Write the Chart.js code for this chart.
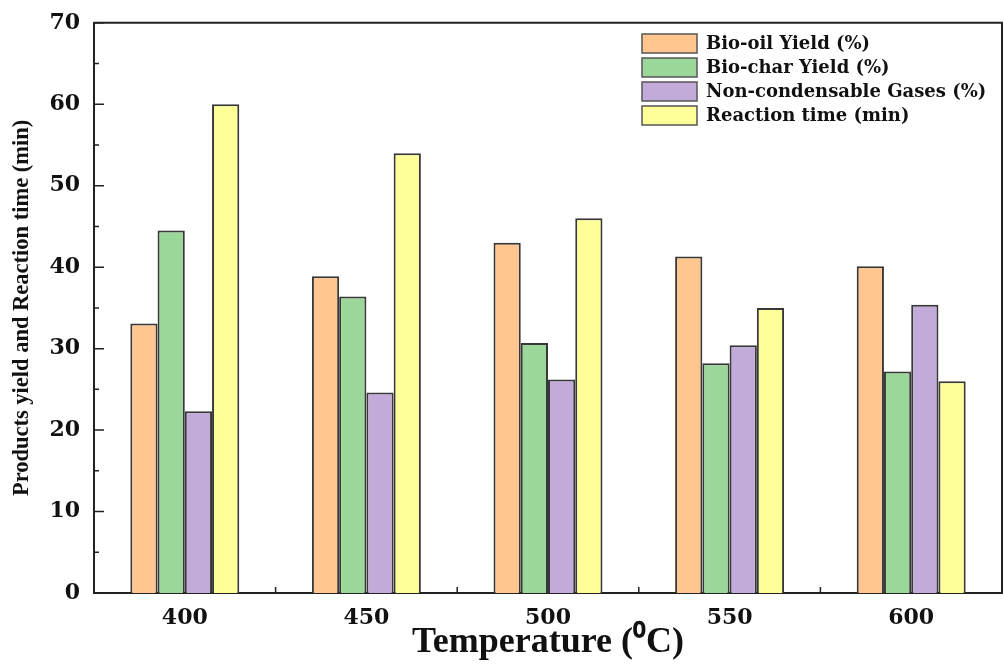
<!DOCTYPE html>
<html>
<head>
<meta charset="utf-8">
<script src="https://cdn.jsdelivr.net/npm/chart.js@4.4.1/dist/chart.umd.min.js"></script>
<style>
  body { margin: 0; background: #fff; }
  #chart { display: block; }
</style>
</head>
<body>
<canvas id="chart" width="1004" height="668"></canvas>
<script>
// data
const temperatures = ['400', '450', '500', '550', '600'];
const bioOil = [33.1, 38.9, 43.0, 41.3, 40.1];
const bioChar = [44.5, 36.4, 30.7, 28.2, 27.2];
const gases = [22.3, 24.6, 26.2, 30.4, 35.4];
const reactionTime = [60, 54, 46, 35, 26];
const seriesNames = ['Bio-oil Yield (%)', 'Bio-char Yield (%)', 'Non-condensable Gases (%)', 'Reaction time (min)'];
const seriesColors = ['#ffc78f', '#9bd69b', '#c2abd9', '#ffff99'];
const yTicks = [0, 10, 20, 30, 40, 50, 60, 70];

const axisColor = '#222';

// inward ticks, closed frame and legend in the top right
const framePlugin = {
    id: 'frame',
    afterDraw(chart) {
        const ctx = chart.ctx;
        const area = chart.chartArea;
        const y = chart.scales.y;
        const x = chart.scales.x;
        ctx.save();
        ctx.strokeStyle = axisColor;
        ctx.lineWidth = 2;
        ctx.beginPath();
        ctx.moveTo(area.left, area.top);
        ctx.lineTo(area.right, area.top);
        ctx.lineTo(area.right, area.bottom);
        ctx.stroke();

        ctx.lineWidth = 1.5;
        ctx.beginPath();
        for (let v = 0; v <= 70; v += 5) {
            const py = y.getPixelForValue(v);
            const len = v % 10 === 0 ? 10 : 5;
            ctx.moveTo(area.left, py);
            ctx.lineTo(area.left + len, py);
        }
        for (let i = 0; i < temperatures.length - 1; i++) {
            const px = x.getPixelForValue(i + 0.5);
            ctx.moveTo(px, area.bottom);
            ctx.lineTo(px, area.bottom - 6);
        }
        ctx.stroke();

        ctx.font = 'bold 18px "DejaVu Serif"';
        ctx.textBaseline = 'middle';
        ctx.textAlign = 'left';
        chart.data.datasets.forEach((ds, i) => {
            const top = 34 + i * 24;
            ctx.fillStyle = ds.backgroundColor;
            ctx.fillRect(642, top, 55, 19);
            ctx.strokeStyle = '#555';
            ctx.lineWidth = 1.5;
            ctx.strokeRect(642, top, 55, 19);
            ctx.fillStyle = '#111';
            ctx.fillText(ds.label, 706, top + 10);
        });
        ctx.restore();
    }
};

const values = [bioOil, bioChar, gases, reactionTime];

new Chart(document.getElementById('chart'), {
    type: 'bar',
    data: {
        labels: temperatures,
        datasets: seriesNames.map((name, i) => ({
            label: name,
            data: values[i],
            backgroundColor: seriesColors[i],
            borderColor: '#383838',
            borderWidth: 2,
            categoryPercentage: 0.6,
            barPercentage: 1.0
        }))
    },
    options: {
        responsive: false,
        animation: false,
        layout: { padding: { top: 22, right: 2, left: 0, bottom: 0 } },
        plugins: {
            legend: { display: false },
            tooltip: { enabled: false }
        },
        scales: {
            x: {
                grid: { display: false, drawTicks: false },
                border: { display: true, color: axisColor, width: 2 },
                ticks: {
                    color: '#111',
                    padding: 12,
                    font: { family: 'DejaVu Serif', size: 22, weight: 'bold' }
                },
                title: {
                    display: true,
                    text: 'Temperature (⁰C)',
                    color: '#111',
                    padding: { top: 0, bottom: 4 },
                    font: { family: 'Liberation Serif', size: 36, weight: 'bold', lineHeight: 1.2 }
                },
                afterFit(scale) { scale.height = 75; }
            },
            y: {
                min: 0,
                max: 70,
                afterBuildTicks(scale) { scale.ticks = yTicks.map(v => ({ value: v })); },
                grid: { display: false, drawTicks: false },
                border: { display: true, color: axisColor, width: 2 },
                ticks: {
                    color: '#111',
                    padding: 14,
                    font: { family: 'DejaVu Serif', size: 22, weight: 'bold', lineHeight: 0.8 }
                },
                title: {
                    display: true,
                    text: 'Products yield and Reaction time (min)',
                    color: '#111',
                    padding: { top: 9, bottom: 0 },
                    font: { family: 'Liberation Serif', size: 22.5, weight: 'bold', lineHeight: 1.2 }
                },
                afterFit(scale) { scale.width = 94; }
            }
        }
    },
    plugins: [framePlugin]
});
</script>
</body>
</html>
